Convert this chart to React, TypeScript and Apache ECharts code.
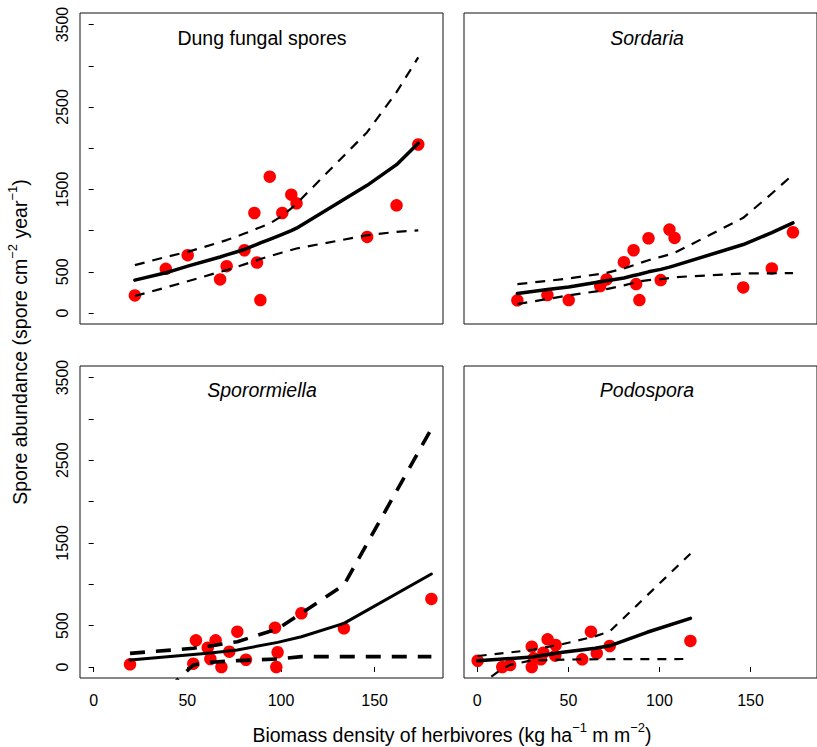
import React, { useEffect, useRef } from "react";
import * as echarts from "echarts";

const FONT = "'Liberation Sans', Arial, Helvetica, sans-serif";

// Panel titles
const panelTitles = ["Dung fungal spores", "Sordaria", "Sporormiella", "Podospora"];

// Tick values
const xTicks = [0, 50, 100, 150];
const yTicks = [0, 500, 1000, 1500, 2000, 2500, 3000, 3500];
const yTickLabels = [0, 500, 1500, 2500, 3500];

// Top panels share the same herbivore biomass values
const topX = [22, 38.5, 50.2, 67.5, 71, 80.5, 85.8, 87.2, 89, 94, 100.7, 105.5, 108.3, 146, 161.7, 173.3];

// Dung fungal spores
const dungY = [214, 536, 702, 408, 569, 762, 1214, 613, 157, 1654, 1214, 1436, 1331, 923, 1307, 2045];
const dungFit = [399, 488, 569, 680, 705, 771, 820, 833, 850, 895, 955, 1000, 1030, 1549, 1800, 2061];
const dungUpper = [581, 680, 742, 860, 885, 964, 1010, 1025, 1040, 1085, 1180, 1270, 1327, 2194, 2680, 3101];
const dungLower = [206, 310, 385, 500, 520, 590, 630, 641, 655, 690, 735, 765, 783, 944, 985, 1004];

// Sordaria
const sordY = [154, 218, 157, 327, 408, 617, 762, 351, 157, 907, 400, 1012, 911, 311, 541, 980];
const sordFit = [238, 285, 315, 379, 392, 425, 455, 462, 470, 500, 530, 557, 575, 831, 975, 1093];
const sordUpper = [351, 390, 420, 475, 488, 540, 580, 590, 605, 640, 681, 710, 730, 1155, 1450, 1680];
const sordLower = [109, 170, 215, 270, 290, 335, 365, 375, 385, 400, 410, 425, 435, 480, 482, 485];

// Sporormiella
const sporX = [19.4, 53.2, 54.6, 60.9, 62.3, 65.1, 68.2, 72.4, 76.7, 81.3, 96.8, 97.5, 98.2, 110.9, 133.6, 180.3];
const sporY = [32, 40, 323, 234, 97, 323, 0, 185, 427, 88, 476, 0, 178, 650, 468, 823];
const sporLineX = [19.4, 53.2, 62.3, 76.7, 98.2, 110.9, 133.6, 180.3];
const sporFit = [85, 150, 170, 206, 298, 366, 528, 1125];
const sporUpper = [165, 226, 255, 306, 460, 650, 992, 2880];
const sporLower = [-700, 24, 57, 77, 97, 125, 125, 125];

// Podospora
const podoX = [0.2, 13.7, 18, 29.9, 29.9, 31, 34.9, 36.3, 38.6, 42.8, 43, 57.6, 62.4, 65.6, 72.7, 117];
const podoY = [76, 0, 24, 246, 0, 105, 93, 173, 335, 137, 266, 93, 427, 165, 254, 315];
const podoFitX = [0.2, 29.9, 46.9, 64.7, 72.7, 93.2, 117];
const podoFit = [75, 120, 178, 226, 256, 420, 589];
const podoUpperX = [0.2, 29.9, 47, 64, 72.7, 117];
const podoUpper = [133, 206, 278, 367, 430, 1370];
const podoLowerX = [0.2, 13.7, 18, 29.9, 57.6, 117];
const podoLower = [-240, -20, 25, 80, 93, 97];

const pairs = (xs: number[], ys: number[]) => xs.map((x, i) => [x, ys[i]]);

export default function App() {
  const ref = useRef<HTMLDivElement>(null);

  useEffect(() => {
    if (!ref.current) return;
    const chart = echarts.init(ref.current, null, { renderer: "svg" });

    const grids = [
      { left: 80, top: 13, width: 363, height: 311 },
      { left: 464, top: 13, width: 364, height: 311 },
      { left: 80, top: 366, width: 363, height: 312 },
      { left: 464, top: 366, width: 364, height: 312 },
    ].map((g) => ({ ...g, show: true, borderColor: "#111", borderWidth: 1, backgroundColor: "transparent" }));

    const xAxes = [0, 1, 2, 3].map((i) => ({
      type: "value",
      gridIndex: i,
      min: -7.3,
      max: 186.5,
      axisLine: { show: false },
      splitLine: { show: false },
      axisTick: { show: i >= 2, length: 5, customValues: xTicks, lineStyle: { color: "#000", width: 1 } },
      axisLabel: {
        show: i >= 2,
        customValues: xTicks,
        fontSize: 16,
        margin: 14,
        color: "#000",
        fontFamily: FONT,
        formatter: (v: number) => String(v),
      },
    }));

    const yAxes = [0, 1, 2, 3].map((i) => ({
      type: "value",
      gridIndex: i,
      min: -133,
      max: 3640,
      axisLine: { show: false },
      splitLine: { show: false },
      axisTick: { show: i % 2 === 0, length: 5, customValues: yTicks, lineStyle: { color: "#000", width: 1 } },
      axisLabel: {
        show: i % 2 === 0,
        customValues: yTickLabels,
        rotate: 90,
        fontSize: 16,
        margin: 10,
        color: "#000",
        fontFamily: FONT,
        formatter: (v: number) => String(v),
      },
    }));

    const scatter = (i: number, xs: number[], ys: number[]) => ({
      type: "scatter",
      xAxisIndex: i,
      yAxisIndex: i,
      data: pairs(xs, ys),
      symbolSize: 12.5,
      itemStyle: { color: "#ff0000", opacity: 1 },
      silent: true,
    });
    const line = (i: number, xs: number[], ys: number[], width: number, dash?: number[]) => ({
      type: "line",
      xAxisIndex: i,
      yAxisIndex: i,
      data: pairs(xs, ys),
      showSymbol: false,
      symbol: "none",
      clip: true,
      silent: true,
      lineStyle: {
        color: "#000",
        width,
        type: dash ? dash : "solid",
        cap: dash ? "butt" : "round",
        join: "round",
      },
    });

    const thinDash = [10, 8];
    const thickDash = [15, 11];

    const series = [
      scatter(0, topX, dungY),
      line(0, topX, dungFit, 3.5),
      line(0, topX, dungUpper, 2.2, thinDash),
      line(0, topX, dungLower, 2.2, thinDash),

      scatter(1, topX, sordY),
      line(1, topX, sordFit, 3.5),
      line(1, topX, sordUpper, 2.2, thinDash),
      line(1, topX, sordLower, 2.2, thinDash),

      scatter(2, sporX, sporY),
      line(2, sporLineX, sporFit, 3),
      line(2, sporLineX, sporUpper, 3.6, thickDash),
      line(2, sporLineX, sporLower, 3.6, thickDash),

      scatter(3, podoX, podoY),
      line(3, podoFitX, podoFit, 3.5),
      line(3, podoUpperX, podoUpper, 2.2, [9, 8]),
      line(3, podoLowerX, podoLower, 2.2, [9, 8]),
    ];

    const titlePos = [
      [262, 37.5],
      [647, 37.5],
      [262, 390],
      [647, 390],
    ];
    const titleGraphics = panelTitles.map((t, i) => ({
      type: "text",
      x: titlePos[i][0],
      y: titlePos[i][1],
      silent: true,
      style: {
        text: t,
        fill: "#000",
        fontSize: 19.5,
        fontFamily: FONT,
        fontStyle: i === 0 ? "normal" : "italic",
        align: "center",
        verticalAlign: "middle",
      },
    }));

    const rich = {
      a: { fontSize: 19.5, fontFamily: FONT, fill: "#000", lineHeight: 28, verticalAlign: "middle" },
      s: { fontSize: 13, fontFamily: FONT, fill: "#000", lineHeight: 14, verticalAlign: "top" },
    };

    const graphic = [
      ...titleGraphics,
      {
        type: "text",
        x: 452,
        y: 735,
        silent: true,
        style: {
          text: "{a|Biomass density of herbivores (kg ha}{s|−1}{a| m m}{s|−2}{a|)}",
          rich,
          align: "center",
          verticalAlign: "middle",
        },
      },
      {
        type: "text",
        x: 20,
        y: 342,
        rotation: Math.PI / 2,
        silent: true,
        style: {
          text: "{a|Spore abundance (spore cm}{s|−2}{a| year}{s|−1}{a|)}",
          rich,
          align: "center",
          verticalAlign: "middle",
        },
      },
    ];

    chart.setOption({
      animation: false,
      backgroundColor: "#fff",
      grid: grids,
      xAxis: xAxes,
      yAxis: yAxes,
      series,
      graphic,
    });

    return () => chart.dispose();
  }, []);

  return (
    <div
      ref={ref}
      style={{ position: "absolute", left: 0, top: 0, width: 817, height: 747, overflow: "hidden" }}
    />
  );
}
